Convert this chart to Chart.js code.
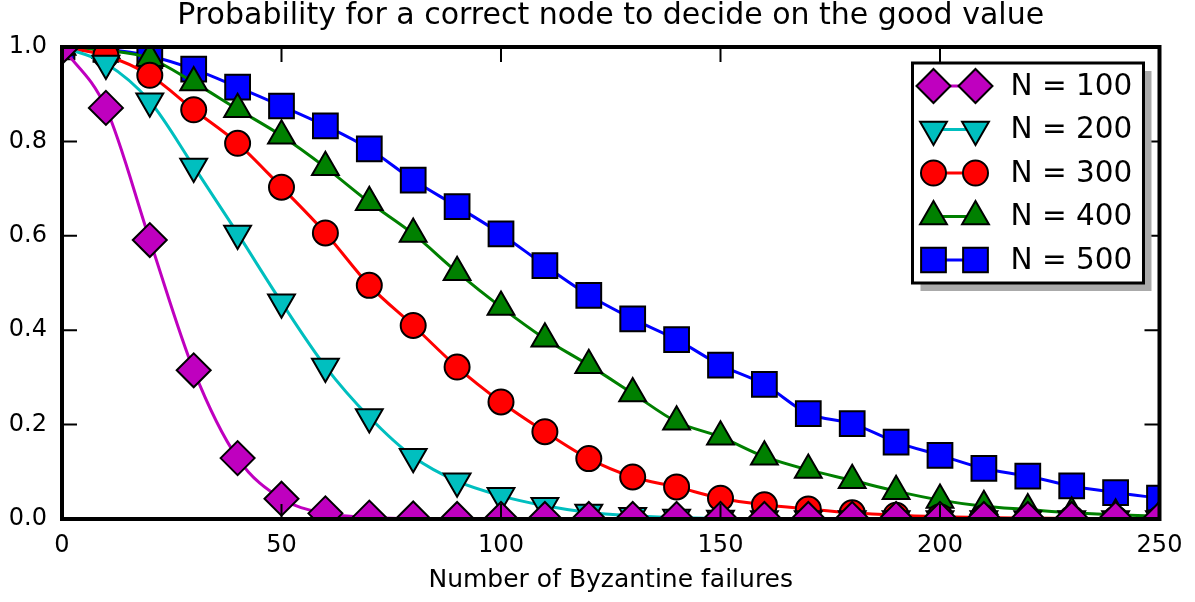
<!DOCTYPE html>
<html>
<head>
<meta charset="utf-8">
<script src="https://cdn.jsdelivr.net/npm/chart.js@4.4.1/dist/chart.umd.min.js"></script>
<style>
  html, body { margin: 0; padding: 0; background: #fff; }
  #wrap { width: 1195px; height: 602px; }
</style>
</head>
<body>
<div id="wrap"><canvas id="chart" width="1195" height="602"></canvas></div>
<script>
// Values (one marker every 10 failures)
const failures = [0, 10, 20, 30, 40, 50, 60, 70, 80, 90, 100, 110, 120, 130, 140, 150, 160, 170, 180, 190, 200, 210, 220, 230, 240, 250];
const p100 = [1.0, 0.871, 0.591, 0.315, 0.129, 0.043, 0.012, 0.003, 0.001, 0, 0, 0, 0, 0, 0, 0, 0, 0, 0, 0, 0, 0, 0, 0, 0, 0];
const p200 = [1.0, 0.965, 0.885, 0.747, 0.605, 0.459, 0.323, 0.216, 0.132, 0.080, 0.049, 0.028, 0.014, 0.007, 0.003, 0.001, 0, 0, 0, 0, 0, 0, 0, 0, 0, 0];
const p300 = [1.0, 0.982, 0.940, 0.867, 0.796, 0.703, 0.606, 0.495, 0.410, 0.322, 0.248, 0.185, 0.128, 0.089, 0.068, 0.044, 0.030, 0.021, 0.013, 0.008, 0.005, 0.003, 0.002, 0.001, 0, 0];
const p400 = [1.0, 0.993, 0.976, 0.925, 0.868, 0.812, 0.745, 0.671, 0.604, 0.523, 0.449, 0.382, 0.326, 0.266, 0.206, 0.174, 0.132, 0.104, 0.082, 0.059, 0.040, 0.027, 0.020, 0.013, 0.009, 0.006];
const p500 = [1.0, 0.995, 0.981, 0.953, 0.915, 0.875, 0.833, 0.784, 0.718, 0.662, 0.604, 0.537, 0.474, 0.424, 0.380, 0.326, 0.285, 0.223, 0.202, 0.163, 0.135, 0.107, 0.091, 0.070, 0.056, 0.044];
const seriesLabels = ['N = 100', 'N = 200', 'N = 300', 'N = 400', 'N = 500'];
const xTicks = [0, 50, 100, 150, 200, 250];
const yTicks = [0.0, 0.2, 0.4, 0.6, 0.8, 1.0];

Chart.defaults.font.family = "'DejaVu Sans', sans-serif";
Chart.defaults.color = '#000';

function serie(label, values, color, style, radius, rotation) {
    return {
        label: label,
        data: failures.map((x, i) => ({ x: x, y: values[i] })),
        borderColor: color,
        borderWidth: 3,
        pointStyle: style,
        pointRadius: radius,
        pointHoverRadius: radius,
        pointRotation: rotation,
        pointBackgroundColor: color,
        pointBorderColor: '#000',
        pointBorderWidth: 2,
        cubicInterpolationMode: 'monotone',
        clip: 0
    };
}

// Cadre noir + graduations vers l'intérieur sur les quatre côtés
const frameTicks = {
    id: 'frameTicks',
    afterDatasetsDraw(chart) {
        const { ctx, chartArea: a, scales: { x, y } } = chart;
        ctx.save();
        ctx.strokeStyle = '#000';
        ctx.lineWidth = 2;
        ctx.beginPath();
        xTicks.forEach(v => {
            const px = x.getPixelForValue(v);
            ctx.moveTo(px, a.bottom); ctx.lineTo(px, a.bottom - 15);
            ctx.moveTo(px, a.top); ctx.lineTo(px, a.top + 15);
        });
        yTicks.forEach(v => {
            const py = y.getPixelForValue(v);
            ctx.moveTo(a.left, py); ctx.lineTo(a.left + 15, py);
            ctx.moveTo(a.right, py); ctx.lineTo(a.right - 15, py);
        });
        ctx.stroke();
        ctx.lineWidth = 4;
        ctx.strokeRect(a.left, a.top, a.right - a.left, a.bottom - a.top);
        ctx.restore();
    }
};

// Légende style matplotlib : deux marqueurs par entrée, ombre grise
const boxLegend = {
    id: 'boxLegend',
    afterDraw(chart) {
        const { ctx, chartArea: a } = chart;
        const w = 231, h = 220;
        const left = a.right - 16 - w;
        const top = a.top + 16;
        ctx.save();
        ctx.fillStyle = '#aaaaaa';
        ctx.fillRect(left + 8, top + 8, w, h);
        ctx.fillStyle = '#fff';
        ctx.fillRect(left, top, w, h);
        ctx.lineWidth = 3;
        ctx.strokeStyle = '#000';
        ctx.strokeRect(left, top, w, h);

        chart.data.datasets.forEach((ds, i) => {
            const cy = top + 23 + i * 43.5;
            const x1 = left + 21, x2 = left + 63;
            ctx.strokeStyle = ds.borderColor;
            ctx.lineWidth = 3;
            ctx.beginPath();
            ctx.moveTo(x1, cy); ctx.lineTo(x2, cy);
            ctx.stroke();
            ctx.fillStyle = ds.pointBackgroundColor;
            ctx.strokeStyle = ds.pointBorderColor;
            ctx.lineWidth = ds.pointBorderWidth;
            const opts = { pointStyle: ds.pointStyle, rotation: ds.pointRotation, radius: ds.pointRadius, borderWidth: ds.pointBorderWidth };
            Chart.helpers.drawPoint(ctx, opts, x1, cy);
            Chart.helpers.drawPoint(ctx, opts, x2, cy);
            ctx.fillStyle = '#000';
            ctx.font = "29.5px 'DejaVu Sans', sans-serif";
            ctx.textBaseline = 'middle';
            ctx.textAlign = 'left';
            ctx.fillText(ds.label, left + 98, cy + 1);
        });
        ctx.restore();
    }
};

const ctx = document.getElementById('chart').getContext('2d');
new Chart(ctx, {
    type: 'line',
    data: {
        datasets: [
            serie(seriesLabels[0], p100, '#bf00bf', 'rectRot', 17, 0),
            serie(seriesLabels[1], p200, '#00bfbf', 'triangle', 15.5, 180),
            serie(seriesLabels[2], p300, '#ff0000', 'circle', 12.5, 0),
            serie(seriesLabels[3], p400, '#008000', 'triangle', 15.5, 0),
            serie(seriesLabels[4], p500, '#0000ff', 'rect', 17.5, 0)
        ]
    },
    options: {
        responsive: false,
        animation: false,
        events: [],
        layout: { padding: { left: 0, right: 35, top: 0, bottom: 0 } },
        plugins: {
            legend: { display: false },
            tooltip: { enabled: false },
            title: {
                display: true,
                fullSize: false,
                text: 'Probability for a correct node to decide on the good value',
                font: { size: 30, weight: 'normal', lineHeight: 1.0 },
                padding: { top: 1.5, bottom: 15.5 }
            }
        },
        scales: {
            x: {
                type: 'linear',
                min: 0,
                max: 250,
                afterBuildTicks: s => { s.ticks = xTicks.map(v => ({ value: v })); },
                afterFit: s => { s.height = 83; },
                ticks: { font: { size: 24 }, padding: 12.6, maxRotation: 0, callback: v => String(v) },
                grid: { display: false, drawTicks: false },
                border: { display: false },
                title: {
                    display: true,
                    text: 'Number of Byzantine failures',
                    font: { size: 25, lineHeight: 1.0 },
                    padding: { top: 0, bottom: 9.5 }
                }
            },
            y: {
                min: 0,
                max: 1,
                afterBuildTicks: s => { s.ticks = yTicks.map(v => ({ value: v })); },
                afterFit: s => { s.width = 62; },
                ticks: { font: { size: 24 }, padding: 15, callback: v => v.toFixed(1) },
                grid: { display: false, drawTicks: false },
                border: { display: false }
            }
        }
    },
    plugins: [frameTicks, boxLegend]
});
</script>
</body>
</html>
